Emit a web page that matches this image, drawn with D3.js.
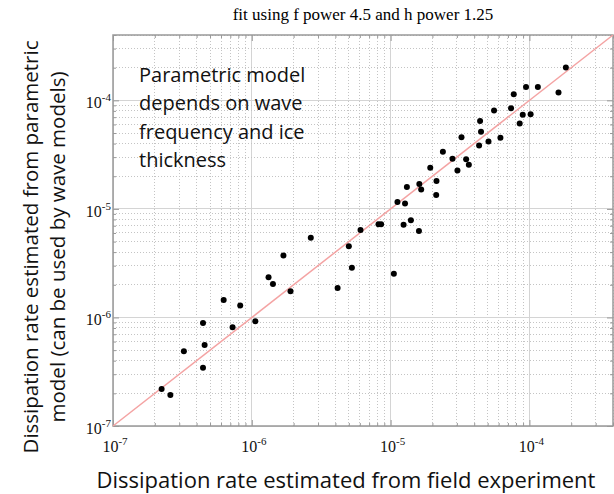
<!DOCTYPE html>
<meta charset="utf-8">
<style>
body{ margin:0; background:#fff; }
.grid line{ stroke:#c4c4c4; stroke-dasharray:1,2; shape-rendering:crispEdges; }
.grid line.major{ stroke:#d4d4d4; stroke-dasharray:none; }
.axis path{ display:none; }
.axis line{ stroke:#999; }
.axis text{ font-family:"Liberation Serif", serif; font-size:16px; fill:#111; }
.dot{ fill:#000; }
.label{ font-family:"Open Sans", sans-serif; fill:#111; }
</style>
<svg class="chart"></svg>
<script src="https://cdn.jsdelivr.net/npm/d3@7/dist/d3.min.js"></script>
<script>
var fieldRate = [2.24e-7,2.59e-7,3.24e-7,4.45e-7,4.57e-7,4.45e-7,6.27e-7,7.27e-7,8.25e-7,1.06e-6,
	1.32e-6,1.42e-6,1.69e-6,1.90e-6,2.66e-6,4.15e-6,5.00e-6,5.26e-6,6.07e-6,8.18e-6,
	8.54e-6,1.055e-5,1.24e-5,1.40e-5,1.60e-5,1.12e-5,1.27e-5,1.31e-5,1.61e-5,1.66e-5,
	2.14e-5,2.13e-5,1.93e-5,2.38e-5,2.79e-5,3.03e-5,3.24e-5,3.50e-5,3.66e-5,4.34e-5,
	4.41e-5,4.48e-5,5.07e-5,5.56e-5,6.18e-5,7.37e-5,7.71e-5,8.51e-5,8.95e-5,9.45e-5,
	1.02e-4,1.15e-4,1.62e-4,1.83e-4];
var modelRate = [2.19e-7,1.93e-7,4.87e-7,8.88e-7,5.57e-7,3.44e-7,1.45e-6,8.11e-7,1.29e-6,9.21e-7,
	2.34e-6,2.03e-6,3.73e-6,1.74e-6,5.42e-6,1.87e-6,4.52e-6,2.87e-6,6.38e-6,7.24e-6,
	7.24e-6,2.53e-6,7.14e-6,7.84e-6,6.25e-6,1.16e-5,1.12e-5,1.59e-5,1.70e-5,1.51e-5,
	1.81e-5,1.34e-5,2.39e-5,3.36e-5,2.89e-5,2.26e-5,4.58e-5,2.87e-5,2.55e-5,3.84e-5,
	6.44e-5,5.13e-5,4.18e-5,8.07e-5,4.52e-5,8.48e-5,1.14e-4,6.13e-5,7.35e-5,1.33e-4,
	7.46e-5,1.33e-4,1.18e-4,2.01e-4];
var axisRange = [1e-7, 4e-4];
var majorTicks = [1e-7, 1e-6, 1e-5, 1e-4];
var tickExp = ["-7", "-6", "-5", "-4"];
var title = "fit using f power 4.5 and h power 1.25";
var note = ["Parametric model", "depends on wave", "frequency and ice", "thickness"];
var xLabel = "Dissipation rate estimated from field experiment";
var yLabel = ["Dissipation rate estimated from parametric", "model (can be used by wave models)"];

var margin = {top: 35, right: 1, bottom: 68, left: 113};
var width = 614 - margin.left - margin.right,
	height = 494 - margin.top - margin.bottom;

var svg = d3.select(".chart").attr("width", 614).attr("height", 494);
var chart = svg.append("g")
	.attr("transform", "translate(" + margin.left + "," + margin.top + ")");

var x = d3.scaleLog().domain(axisRange).range([0, width]);
var y = d3.scaleLog().domain(axisRange).range([height, 0]);

// all grid values (minor + major)
var gridVals = [];
[-7, -6, -5, -4].forEach(function(e){
	for (var m = 1; m <= 9; m++){
		var v = m * Math.pow(10, e);
		if (v <= axisRange[1]) gridVals.push(v);
	}
});
function isMajor(d){ return majorTicks.indexOf(d) >= 0; }

chart.append("g").attr("class", "grid")
	.selectAll("line").data(gridVals).enter().append("line")
	.classed("major", isMajor)
	.attr("x1", function(d){ return x(d); }).attr("x2", function(d){ return x(d); })
	.attr("y1", 0).attr("y2", height);
chart.append("g").attr("class", "grid")
	.selectAll("line").data(gridVals).enter().append("line")
	.classed("major", isMajor)
	.attr("y1", function(d){ return y(d); }).attr("y2", function(d){ return y(d); })
	.attr("x1", 0).attr("x2", width);

// inward ticks on all four sides
var tickSides = [
	{axis: d3.axisBottom(x), t: "translate(0," + height + ")"},
	{axis: d3.axisTop(x), t: "translate(0,0)"},
	{axis: d3.axisLeft(y), t: "translate(0,0)"},
	{axis: d3.axisRight(y), t: "translate(" + width + ",0)"}
];
tickSides.forEach(function(s){
	var g = chart.append("g").attr("class", "axis").attr("transform", s.t)
		.call(s.axis.tickValues(gridVals).tickFormat("").tickSizeInner(-3).tickSizeOuter(0));
	g.selectAll(".tick line").attr("y2", function(d){
		var v = d3.select(this).attr("y2");
		return v == null ? null : (isMajor(d) ? v * 2 : v);
	}).attr("x2", function(d){
		var v = d3.select(this).attr("x2");
		return v == null ? null : (isMajor(d) ? v * 2 : v);
	});
});

// tick labels 10^n
function powLabel(sel){
	sel.each(function(d, i){
		var t = d3.select(this);
		t.text("");
		t.append("tspan").text("10");
		t.append("tspan").attr("dy", "-0.65em").attr("font-size", "11px").text(tickExp[i]);
	});
}
chart.append("g").attr("class", "axis")
	.selectAll("text").data(majorTicks).enter().append("text")
	.attr("x", function(d){ return x(d) + 2; })
	.attr("y", height + 26)
	.attr("text-anchor", "middle")
	.call(powLabel);
chart.append("g").attr("class", "axis")
	.selectAll("text").data(majorTicks).enter().append("text")
	.attr("x", -2)
	.attr("y", function(d){ return y(d) + 8; })
	.attr("text-anchor", "end")
	.call(powLabel);

// box
chart.append("rect")
	.attr("width", width).attr("height", height)
	.attr("fill", "none").attr("stroke", "#999").attr("stroke-width", 1.5);

// 1:1 line
chart.append("line")
	.attr("x1", x(axisRange[0])).attr("y1", y(axisRange[0]))
	.attr("x2", x(axisRange[1])).attr("y2", y(axisRange[1]))
	.attr("stroke", "#f4a3a3").attr("stroke-width", 1.5);

chart.selectAll(".dot")
	.data(fieldRate).enter().append("circle")
	.attr("class", "dot")
	.attr("cx", function(d){ return x(d); })
	.attr("cy", function(d, i){ return y(modelRate[i]); })
	.attr("r", 3);

// title
svg.append("text")
	.attr("x", 363).attr("y", 20)
	.attr("text-anchor", "middle")
	.style("font-family", "'Liberation Serif', serif")
	.style("font-size", "17px")
	.text(title);

// annotation
svg.append("g").selectAll("text").data(note).enter().append("text")
	.attr("class", "label")
	.style("font-size", "20px")
	.attr("x", 139)
	.attr("y", function(d, i){ return 82 + i * 28.3; })
	.text(function(d){ return d; });

svg.append("text")
	.attr("class", "label")
	.style("font-size", "22px")
	.attr("x", 346).attr("y", 488)
	.attr("text-anchor", "middle")
	.text(xLabel);

svg.append("g").selectAll("text").data(yLabel).enter().append("text")
	.attr("class", "label")
	.style("font-size", "20.5px")
	.attr("transform", function(d, i){ return "translate(" + (38 + i * 27) + ",247) rotate(-90)"; })
	.attr("text-anchor", "middle")
	.text(function(d){ return d; });
</script>
